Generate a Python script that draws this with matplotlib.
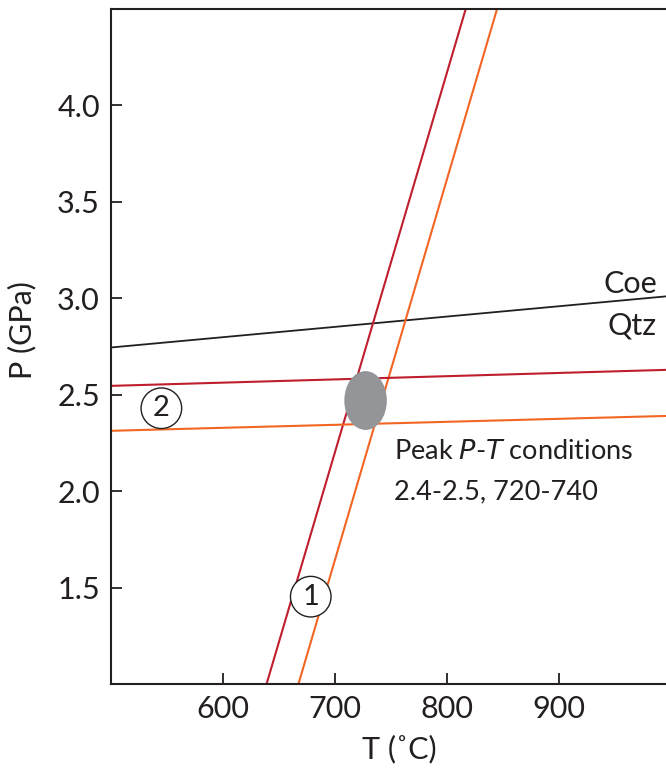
import numpy as np
import matplotlib.pyplot as plt
from matplotlib.patches import Ellipse

plt.rcParams['font.family'] = ['Lato', 'DejaVu Sans']

# reaction lines (T in C, P in GPa), end points
coe_qtz_T = [500, 996]
coe_qtz_P = [2.745, 3.01]

red_steep_T = [639, 817]
red_steep_P = [1.0, 4.5]
orange_steep_T = [667.5, 845]
orange_steep_P = [1.0, 4.5]

red_flat_T = [500, 996]
red_flat_P = [2.546, 2.629]
orange_flat_T = [500, 996]
orange_flat_P = [2.313, 2.39]

# peak P-T ellipse
peak_T, peak_P = 727.5, 2.47
peak_w, peak_h = 38, 0.305

red = '#be1e2d'
orange = '#f26522'
ink = '#231f20'

fig = plt.figure(figsize=(6.66, 7.71), dpi=100)
ax = fig.add_axes([0.1667, 0.1128, 0.8333, 0.8755])

ax.plot(coe_qtz_T, coe_qtz_P, color=ink, lw=1.3)
ax.plot(red_steep_T, red_steep_P, color=red, lw=1.5)
ax.plot(orange_steep_T, orange_steep_P, color=orange, lw=1.5)
ax.plot(red_flat_T, red_flat_P, color=red, lw=1.5)
ax.plot(orange_flat_T, orange_flat_P, color=orange, lw=1.5)

ax.add_patch(Ellipse((peak_T, peak_P), peak_w, peak_h,
                     facecolor='#939598', edgecolor='none', zorder=3))

# circled labels
circ = dict(boxstyle='circle,pad=0.25', facecolor='white', edgecolor=ink, lw=1)
ax.text(678.5, 1.453, '1', fontsize=21, ha='center', va='center', bbox=circ, zorder=4, color=ink)
ax.text(545, 2.43, '2', fontsize=21, ha='center', va='center', bbox=circ, zorder=4, color=ink)

ax.text(988, 3.0, 'Coe', fontsize=22, ha='right', va='bottom', color=ink)
ax.text(988, 2.93, 'Qtz', fontsize=22, ha='right', va='top', color=ink)

ax.text(753, 2.14, 'Peak $\\it{P}$-$\\it{T}$ conditions', fontsize=19.5, ha='left', va='bottom', color=ink)
ax.text(753, 2.06, '2.4-2.5, 720-740', fontsize=19.5, ha='left', va='top', color=ink)

ax.set_xlim(500, 996)
ax.set_ylim(1.0, 4.5)
ax.set_xticks([600, 700, 800, 900])
ax.set_yticks([1.5, 2.0, 2.5, 3.0, 3.5, 4.0])
ax.set_yticklabels(['1.5', '2.0', '2.5', '3.0', '3.5', '4.0'])
ax.tick_params(direction='in', length=8, width=1.3, labelsize=22, colors=ink, pad=8)
ax.spines['right'].set_visible(False)
for s in ['left', 'top', 'bottom']:
    ax.spines[s].set_linewidth(1.5)
    ax.spines[s].set_color(ink)

ax.set_xlabel('T (˚C)', fontsize=22, color=ink, labelpad=8)
ax.set_ylabel('P (GPa)', fontsize=22, color=ink, labelpad=12)
ax.xaxis.set_label_coords(0.52, -0.075)
ax.yaxis.set_label_coords(-0.135, 0.524)

fig.savefig('out.png', dpi=100)
